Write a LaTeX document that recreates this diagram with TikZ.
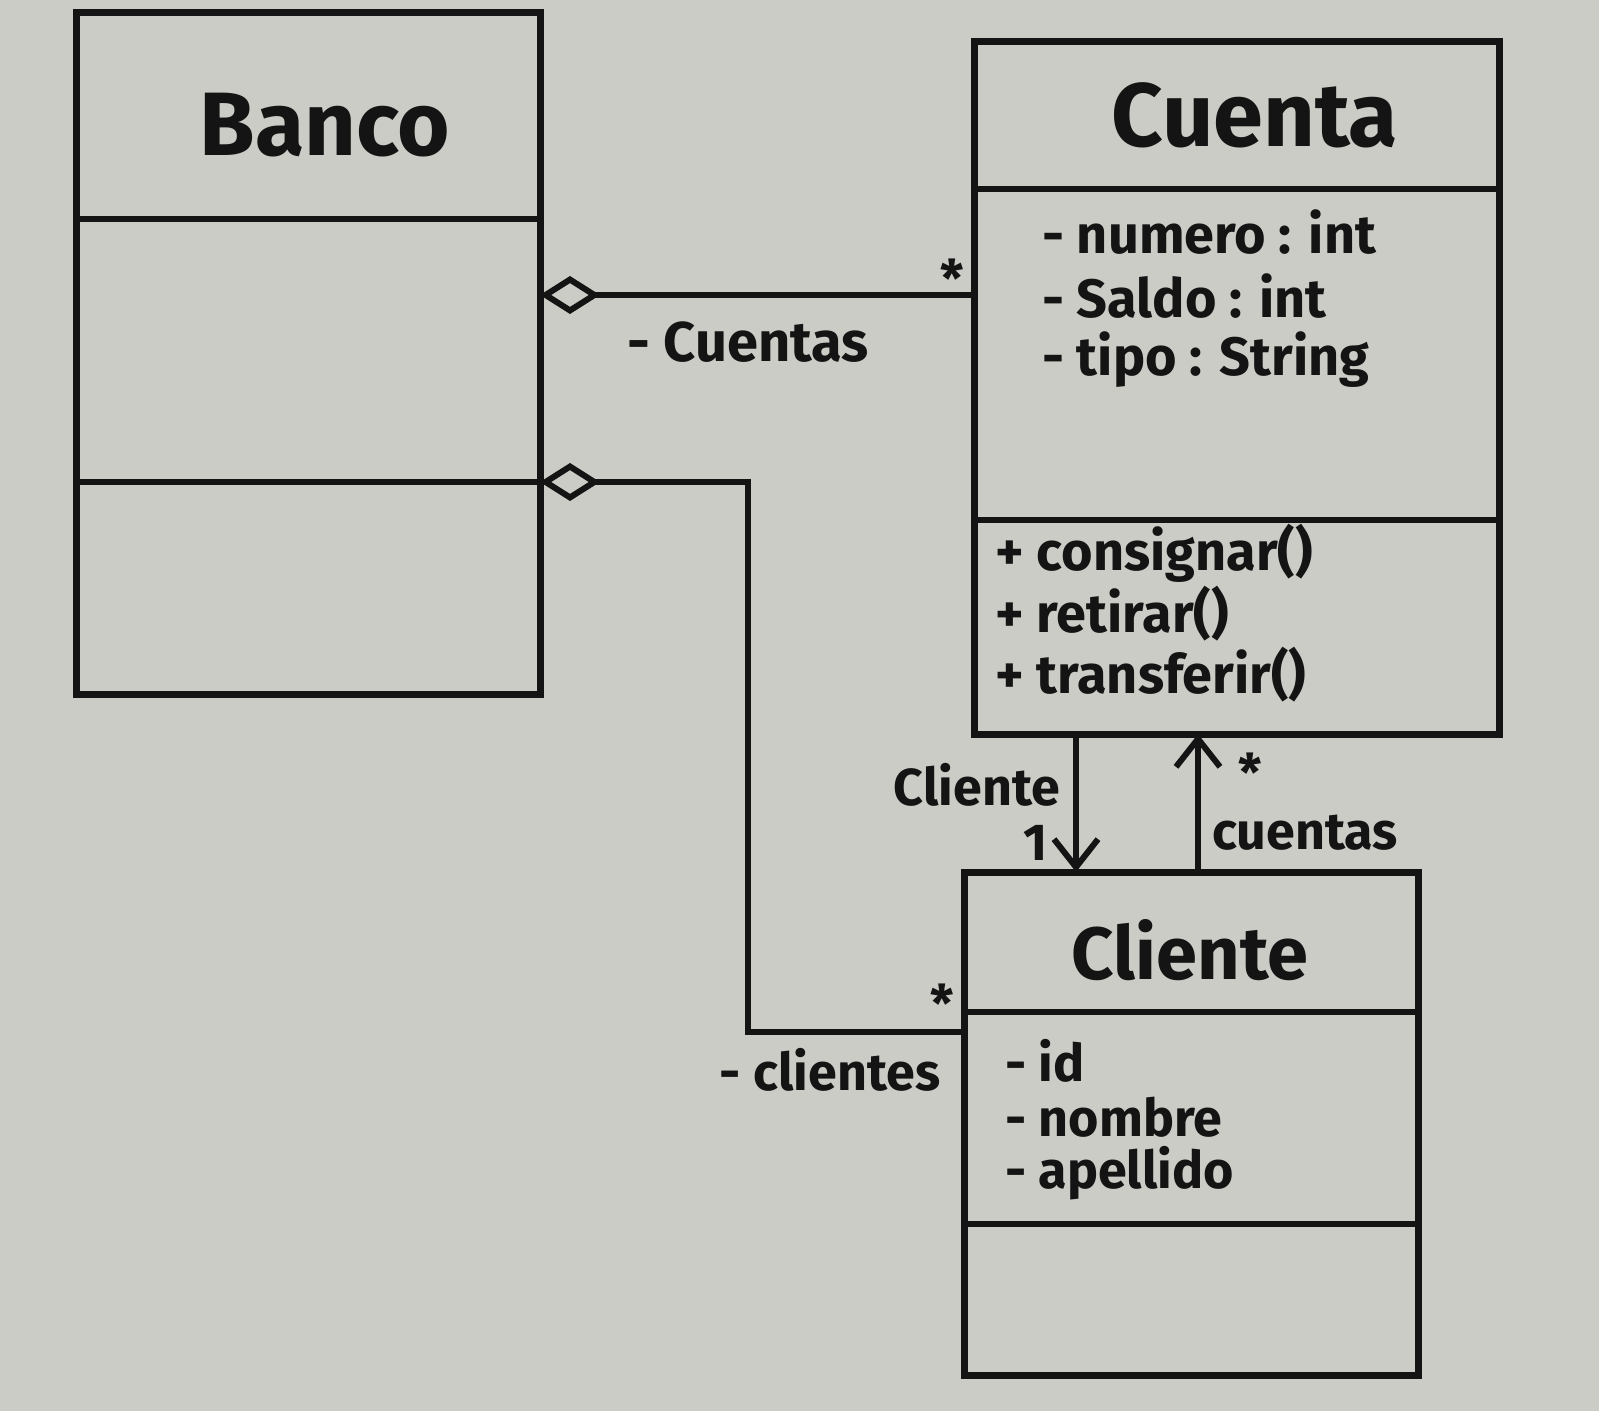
\documentclass[tikz,border=0pt]{standalone}
\usepackage{fontspec}
\setmainfont{Fira Sans}
\usetikzlibrary{arrows.meta}
\definecolor{board}{RGB}{204,204,198}
\definecolor{ink}{RGB}{20,20,20}
\tikzset{
  classbox/.style={draw=ink, line width=7pt, rectangle, inner sep=0pt, outer sep=0pt},
  divider/.style={draw=ink, line width=6pt},
  titletext/.style={text=ink, font=\bfseries\fontsize{90}{100}\selectfont, inner sep=0pt},
  membertext/.style={text=ink, font=\bfseries\fontsize{54}{64}\selectfont, anchor=west, inner sep=0pt},
  labeltext/.style={text=ink, font=\bfseries\fontsize{52}{62}\selectfont, inner sep=0pt},
  conn/.style={draw=ink, line width=6pt},
  aggr/.style={conn, {Diamond[open, length=60pt, width=38pt, line width=6pt]}-},
  navarrow/.style={conn, -{Straight Barb[length=28pt, width=44pt, line width=6pt]}}
}
\begin{document}
\begin{tikzpicture}[x=1pt,y=-1pt]
\useasboundingbox (0,0) rectangle (1599,1411);
\fill[board] (0,0) rectangle (1599,1411);

% Banco
\node[classbox, minimum width=464pt, minimum height=682pt] (banco) at (308,353) {};
\node[titletext] (bancoT) at (325,125) {Banco};
\draw[divider] (banco.west |- 0,219) -- (banco.east |- 0,219);
\draw[divider] (banco.west |- 0,482) -- (banco.east |- 0,482);

% Cuenta
\node[classbox, minimum width=525pt, minimum height=693pt] (cuenta) at (1236.5,387.5) {};
\node[titletext] (cuentaT) at (1255,115) {Cuenta};
\draw[divider] (cuenta.west |- 0,189) -- (cuenta.east |- 0,189);
\draw[divider] (cuenta.west |- 0,520) -- (cuenta.east |- 0,520);
\node[membertext] (a1) at (1042,232) {- numero : int};
\node[membertext] (a2) at (1042,296) {- Saldo : int};
\node[membertext] (a3) at (1042,360) {- tipo : String};
\node[membertext] (m1) at (995,553) {+ consignar()};
\node[membertext] (m2) at (995,614) {+ retirar()};
\node[membertext] (m3) at (995,675) {+ transferir()};

% Cliente
\node[classbox, minimum width=454pt, minimum height=503pt] (cliente) at (1191,1123.5) {};
\node[titletext, font=\bfseries\fontsize{74}{84}\selectfont] (clienteT) at (1190,950) {Cliente};
\draw[divider] (cliente.west |- 0,1012) -- (cliente.east |- 0,1012);
\draw[divider] (cliente.west |- 0,1224) -- (cliente.east |- 0,1224);
\node[membertext, font=\bfseries\fontsize{52}{62}\selectfont] (c1) at (1005,1061) {- id};
\node[membertext, font=\bfseries\fontsize{52}{62}\selectfont] (c2) at (1005,1117) {- nombre};
\node[membertext, font=\bfseries\fontsize{52}{62}\selectfont] (c3) at (1005,1173) {- apellido};

% Banco -- Cuenta aggregation
\draw[aggr] (banco.east |- 0,295) -- (cuenta.west |- 0,295);
\node[labeltext, font=\bfseries\fontsize{56}{66}\selectfont] (lcuentas) at (748,342) {- Cuentas};
\node[labeltext] (lstar1) at (952,278) {*};

% Banco -- Cliente aggregation
\coordinate (k1) at (748,482);
\coordinate (k2) at (748,1032);
\draw[aggr] (banco.east |- k1) -- (k1) -- (k2) -- (cliente.west |- k2);
\node[labeltext] (lstar2) at (942,1003) {*};
\node[labeltext] (lclientes) at (830,1070) {- clientes};

% Cuenta -> Cliente
\draw[navarrow] (cuenta.south -| 1076,0) -- (cliente.north -| 1076,0);
\node[labeltext, anchor=east] (lcliente) at (1060,785) {Cliente};
\node[labeltext] (lone) at (1036,843) {1};

% Cliente -> Cuenta
\draw[navarrow] (cliente.north -| 1198,0) -- (cuenta.south -| 1198,0);
\node[labeltext] (lstar3) at (1250,772) {*};
\node[labeltext, anchor=west] (lcuentas2) at (1212,833) {cuentas};
\end{tikzpicture}
\end{document}
